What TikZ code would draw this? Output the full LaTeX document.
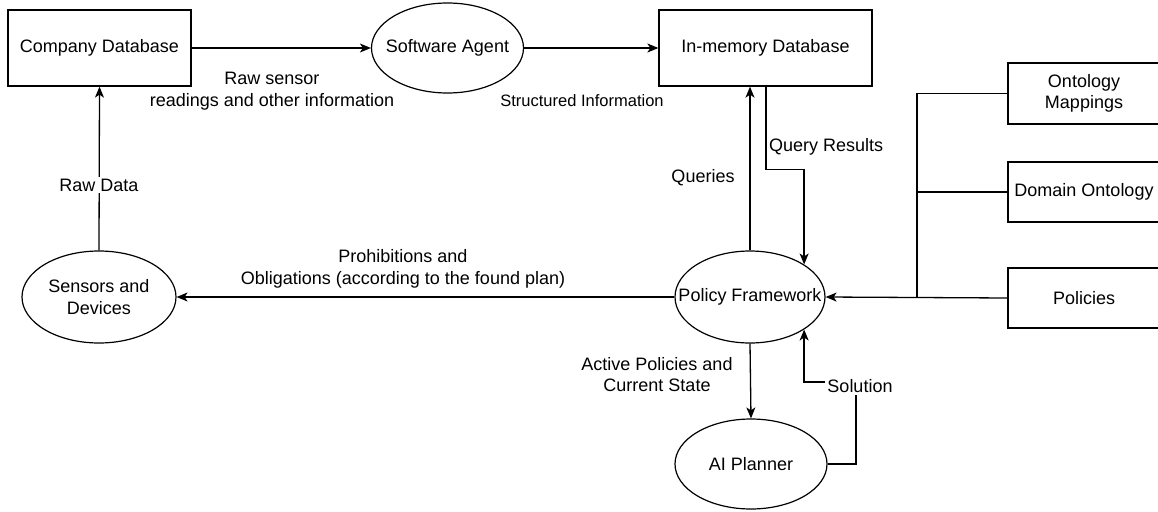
\documentclass[tikz,border=0pt]{standalone}
\usepackage{fontspec}
\setmainfont{Liberation Sans}
\usetikzlibrary{shapes.geometric,arrows.meta}
\begin{document}
\begin{tikzpicture}[x=1pt,y=-1pt,
  every node/.style={font=\fontsize{18}{21.5}\selectfont},
  box/.style={draw,line width=1.3pt,rectangle,inner sep=0pt,align=center},
  oval/.style={draw,line width=1.2pt,ellipse,inner sep=0pt,
    minimum width=152pt,minimum height=90pt},
  txt/.style={align=center,inner sep=0pt},
  line/.style={line width=1.3pt},
  flow/.style={line,-{Stealth[length=11pt,width=9pt,inset=3pt]}},
  lbl/.style={align=center,inner sep=1pt},
  cut/.style={lbl,fill=white,inner sep=2pt}]
\useasboundingbox (0,0) rectangle (1158,511);

% processes and stores (ellipses are empty shapes with their caption on top)
\node[box,minimum width=183pt,minimum height=76pt] (cdb) at (99.5,48) {Company Database};
\node[oval] (sa) at (447.5,48) {};
\node[txt] (satext) at (sa) {Software Agent};
\node[box,minimum width=213pt,minimum height=76pt] (imdb) at (765.5,48) {In-memory Database};
\node[box,minimum width=152pt,minimum height=61pt] (om) at (1084,93.5) {Ontology\\Mappings};
\node[box,minimum width=152pt,minimum height=60pt] (dom) at (1084,192) {Domain Ontology};
\node[box,minimum width=152pt,minimum height=60pt] (pol) at (1084,298) {Policies};
\node[oval,minimum width=150pt,minimum height=92pt] (pf) at (750,297) {};
\node[txt] (pftext) at (pf) {Policy Framework};
\node[oval,minimum width=154pt,minimum height=92pt] (sd) at (99,297) {};
\node[txt] (sdtext) at (sd) {Sensors and\\Devices};
\node[oval,minimum width=152pt] (aip) at (751,464) {};
\node[txt] (aiptext) at (aip) {AI Planner};

% top row
\draw[flow] (cdb.east) -- (sa.west);
\draw[flow] (sa.east) -- (imdb.west);
\node[lbl] (rawsensor) at (272,91) {Raw sensor\\readings and other information};
\node[lbl,font=\fontsize{16.5}{20}\selectfont] (structinfo) at (582,101) {Structured Information};

% sensors to company database
\draw[flow] (sd.north) -- (cdb.south);
\node[cut] (rawdata) at (99,185) {Raw Data};

% queries between framework and in-memory database
\draw[flow] (pf.north) -- (pf.north |- imdb.south);
\node[lbl] (queries) at (703,178) {Queries};
\coordinate (qbend) at (766,169.5);
\draw[flow] (qbend |- imdb.south) -- (qbend) -| (pf.31.5);
\node[lbl,anchor=west] (qres) at (768,147) {Query Results};

% knowledge inputs joined on one bus
\coordinate (bus) at (917,298);
\draw[line] (om.west) -| (bus);
\draw[line] (dom.west) -- (dom.west -| bus);
\draw[flow] (pol.west) -- (pf.east);

% commands to the devices
\draw[flow] (pf.west) -- (sd.east);
\node[lbl] (prohib) at (403,269) {Prohibitions and\\Obligations (according to the found plan)};

% planning loop
\draw[flow] (pf.south) -- (aip.north);
\node[lbl] (active) at (657,374.5) {Active Policies and\\Current State};
\coordinate (solbend) at (856,382);
\draw[flow] (aip.east) -| (solbend) -| (pf.-31.5);
\node[cut] (solution) at (860,386) {Solution};
\end{tikzpicture}
\end{document}
